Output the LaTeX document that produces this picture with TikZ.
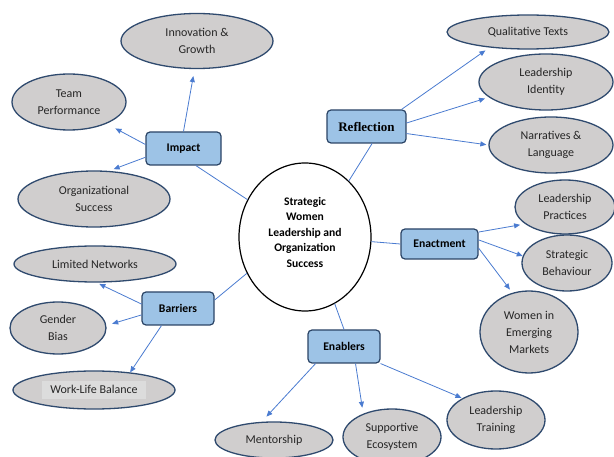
\documentclass[tikz,border=0pt]{standalone}
\usepackage{fontspec}
\setmainfont{Carlito}
\newfontfamily\serifb{Liberation Serif}
\usetikzlibrary{arrows.meta,shapes.geometric}
\definecolor{ellfill}{HTML}{D0CECE}
\definecolor{elldraw}{HTML}{2F4A6E}
\definecolor{boxfill}{HTML}{9DC3E6}
\definecolor{boxdraw}{HTML}{2B4466}
\definecolor{arrblue}{HTML}{4A7BD0}
\definecolor{hl}{HTML}{DCDCDC}
\definecolor{txt}{HTML}{262626}
\begin{document}
\begin{tikzpicture}[x=1pt,y=-1pt,
 leaf/.style={ellipse, fill=ellfill, draw=elldraw, line width=1.3pt, inner sep=0pt, align=center, font=\fontsize{12}{17}\selectfont, text=txt},
 cat/.style={rectangle, rounded corners=4pt, fill=boxfill, draw=boxdraw, line width=1.2pt, inner sep=0pt, text=black, font=\bfseries\fontsize{11.7}{13}\selectfont},
 arr/.style={draw=arrblue, line width=0.8pt, -{Triangle[length=6pt,width=5pt]}},
 link/.style={draw=arrblue, line width=0.8pt}]
\useasboundingbox (0,0) rectangle (614,457);
\clip (0,0) rectangle (614,457);

% centre
\node[ellipse, draw=black, line width=1.2pt, fill=white, minimum width=132pt, minimum height=148pt, inner sep=0pt] (circ) at (305,237) {};
\node[align=center, font=\bfseries\fontsize{11.6}{15.5}\selectfont, text=black] (ctext) at (305,232) {Strategic\\Women\\Leadership and\\Organization\\Success};

% category boxes
\node[cat, minimum width=75pt, minimum height=33pt] (impact) at (183.5,148.5) {Impact};
\node[cat, minimum width=79pt, minimum height=33pt, font=\serifb\bfseries\fontsize{13}{15}\selectfont] (refl) at (366.5,126.5) {Reflection};
\node[cat, minimum width=77pt, minimum height=30pt] (enact) at (439.5,244) {Enactment};
\node[cat, minimum width=72pt, minimum height=33pt] (enab) at (344,346.5) {Enablers};
\node[cat, minimum width=72pt, minimum height=33pt] (barr) at (178,308.5) {Barriers};

% leaves
\node[leaf, minimum width=152pt, minimum height=55pt] (innov) at (197,41) {Innovation \&\\Growth};
\node[leaf, minimum width=114pt, minimum height=56pt] (team) at (69,102) {Team\\Performance};
\node[leaf, minimum width=152pt, minimum height=56pt] (org) at (94,199) {Organizational\\Success};

\node[leaf, minimum width=162pt, minimum height=34pt] (qual) at (528,32) {Qualitative Texts};
\node[leaf, minimum width=134pt, minimum height=56pt] (ident) at (546,82) {Leadership\\Identity};
\node[leaf, minimum width=124pt, minimum height=56pt] (narr) at (551,145) {Narratives \&\\Language};

\node[leaf, minimum width=100pt, minimum height=54pt] (prac) at (565,207) {Leadership\\Practices};
\node[leaf, minimum width=90pt, minimum height=56pt] (strat) at (567,263) {Strategic\\Behaviour};
\node[leaf, minimum width=98pt, minimum height=82pt] (women) at (529,332) {Women in\\Emerging\\Markets};

\node[leaf, minimum width=118pt, minimum height=36pt] (ment) at (274,440) {Mentorship};
\node[leaf, minimum width=98pt, minimum height=56pt] (supp) at (392,437) {Supportive\\Ecosystem};
\node[leaf, minimum width=98pt, minimum height=58pt] (train) at (496,420) {Leadership\\Training};

\node[leaf, minimum width=162pt, minimum height=36pt] (lim) at (95,264) {Limited Networks};
\node[leaf, minimum width=96pt, minimum height=52pt] (gend) at (58,328) {Gender\\Bias};
\node[leaf, minimum width=162pt, minimum height=38pt] (work) at (94,390) {\setlength{\fboxsep}{0pt}\colorbox{hl}{\hspace{8pt}\rule[-6pt]{0pt}{19pt}Work-Life Balance\hspace{8pt}}};

% connectors
\draw[link] (impact.306) -- (circ.147);
\draw[arr, shorten >=7pt] (impact.north) -- (innov.265);
\draw[arr, shorten >=10pt] (impact.174) -- (team.330);
\draw[arr, shorten >=5pt] (impact.193) -- (org.62);

\draw[link] (refl.288) -- (circ.52);
\draw[arr, shorten >=5pt] (refl.26) -- (qual.202);
\draw[arr, shorten >=4pt] (refl.5) -- (ident.195);
\draw[arr, shorten >=2pt] (refl.-10) -- (narr.west);

\draw[link] (circ.356) -- (enact.west);
\draw[arr, shorten >=5pt] (enact.17) -- (prac.203);
\draw[arr] (enact.6) -- (strat.171);
\draw[arr, shorten >=4pt] (enact.354) -- (women.113);

\draw[link] (circ.294) -- (enab.north);
\draw[arr, shorten >=7pt] (enab.211) -- (ment.124);
\draw[arr, shorten >=6pt] (enab.304) -- (supp.141);
\draw[arr, shorten >=1pt] (enab.335) -- (train.147);

\draw[link] (barr.13) -- (circ.212);
\draw[arr, shorten >=3pt] (barr.173) -- (lim.275);
\draw[arr, shorten >=6pt] (barr.190) -- (gend.3);
\draw[arr] (barr.226) -- (work.26);
\end{tikzpicture}
\end{document}
